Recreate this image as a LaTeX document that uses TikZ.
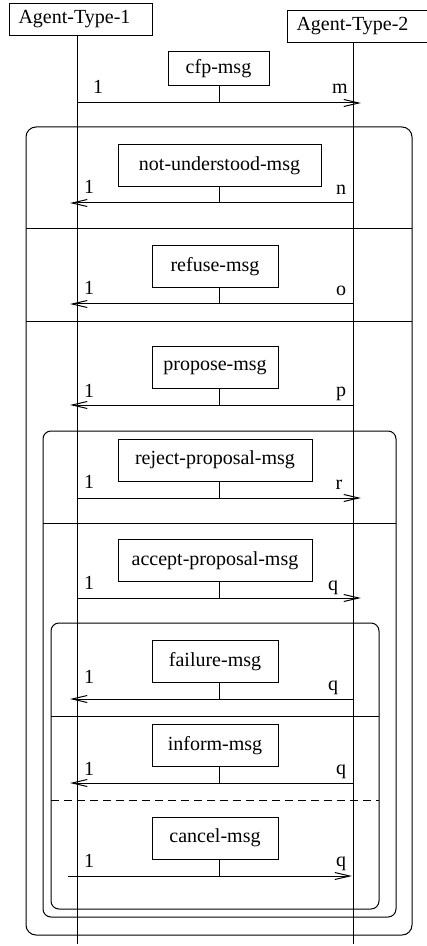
\documentclass[tikz,border=0pt]{standalone}
\usepackage{fontspec}
\setmainfont{Liberation Serif}
\usetikzlibrary{arrows.meta, positioning, calc}

\tikzset{
  agent/.style={draw, anchor=north west, text width=62.5pt, align=left, inner xsep=4.5pt, minimum height=16pt},
  msgbox/.style={draw, minimum height=21pt},
  shortbox/.style={msgbox, minimum width=63pt},
  longbox/.style={msgbox, minimum width=97pt},
  frame/.style={rounded corners=4pt},
  lbl/.style={anchor=base, inner sep=0pt}
}

\begin{document}
\begin{tikzpicture}[x=0.5pt, y=-0.5pt, >={Straight Barb[length=7.5pt,width=3.5pt]}, line width=0.5pt]
    \useasboundingbox (0,0) rectangle (427,946);

    % agents and lifelines
    \node[agent] (agent1) at (9,3) {Agent-Type-1};
    \node[agent] (agent2) at (287,10) {Agent-Type-2};
    \coordinate (end1) at (77,944);
    \coordinate (end2) at (353,944);
    \draw (agent1.south -| end1) -- (end1);
    \draw (agent2.south -| end2) -- (end2);

    % frames
    \draw[frame, rounded corners=5pt] (26,127) rectangle (412,935);
    \draw (26,229) -- (412,229);
    \draw (26,321) -- (412,321);
    \draw[frame] (43,431) rectangle (396,917);
    \draw (43,523) -- (396,523);
    \draw[frame] (51,623) rectangle (379,909);
    \draw (51,716) -- (379,716);
    \draw[dash pattern=on 4pt off 2.5pt] (51,800) -- (379,800);

    % cfp
    \node[msgbox, minimum width=50.5pt, minimum height=17pt] (cfp) at (218.5,69) {cfp-msg};
    \coordinate (cfp-a) at (77,103);
    \coordinate (cfp-b) at (361,103);
    \coordinate (cfp-m) at (219,103);
    \draw[->] (cfp-a) -- (cfp-b);
    \draw (cfp.south -| cfp-m) -- (cfp-m);
    \node[lbl] (cfp-1) at (98,94) {1};
    \node[lbl] (cfp-n) at (340,94) {m};

    % not-understood
    \node[msgbox, minimum width=101.5pt] (notund) at (219.5,165.5) {not-understood-msg};
    \coordinate (notund-a) at (353,203);
    \coordinate (notund-b) at (70,203);
    \coordinate (notund-m) at (219,203);
    \draw[->] (notund-a) -- (notund-b);
    \draw (notund.south -| notund-m) -- (notund-m);
    \node[lbl] (notund-1) at (89,194) {1};
    \node[lbl] (notund-n) at (341,195) {n};

    % refuse
    \node[shortbox] (refuse) at (215,266.5) {refuse-msg};
    \coordinate (refuse-a) at (353,304);
    \coordinate (refuse-b) at (70,304);
    \coordinate (refuse-m) at (219,304);
    \draw[->] (refuse-a) -- (refuse-b);
    \draw (refuse.south -| refuse-m) -- (refuse-m);
    \node[lbl] (refuse-1) at (89,295) {1};
    \node[lbl] (refuse-n) at (341,296) {o};

    % propose
    \node[shortbox] (propose) at (215,367.5) {propose-msg};
    \coordinate (propose-a) at (353,405);
    \coordinate (propose-b) at (70,405);
    \coordinate (propose-m) at (219,405);
    \draw[->] (propose-a) -- (propose-b);
    \draw (propose.south -| propose-m) -- (propose-m);
    \node[lbl] (propose-1) at (89,397) {1};
    \node[lbl] (propose-n) at (341,396) {p};

    % reject-proposal
    \node[longbox] (reject) at (215,460) {reject-proposal-msg};
    \coordinate (reject-a) at (77,498);
    \coordinate (reject-b) at (361,498);
    \coordinate (reject-m) at (219,498);
    \draw[->] (reject-a) -- (reject-b);
    \draw (reject.south -| reject-m) -- (reject-m);
    \node[lbl] (reject-1) at (89,488) {1};
    \node[lbl] (reject-n) at (339,489) {r};

    % accept-proposal
    \node[longbox] (accept) at (215,560.5) {accept-proposal-msg};
    \coordinate (accept-a) at (77,598);
    \coordinate (accept-b) at (361,598);
    \coordinate (accept-m) at (219,598);
    \draw[->] (accept-a) -- (accept-b);
    \draw (accept.south -| accept-m) -- (accept-m);
    \node[lbl] (accept-1) at (89,589) {1};
    \node[lbl] (accept-n) at (333,590) {q};

    % failure
    \node[shortbox] (failure) at (215,661.5) {failure-msg};
    \coordinate (failure-a) at (353,699);
    \coordinate (failure-b) at (70,699);
    \coordinate (failure-m) at (219,699);
    \draw[->] (failure-a) -- (failure-b);
    \draw (failure.south -| failure-m) -- (failure-m);
    \node[lbl] (failure-1) at (89,683) {1};
    \node[lbl] (failure-n) at (333,690) {q};

    % inform
    \node[shortbox] (inform) at (215,745.5) {inform-msg};
    \coordinate (inform-a) at (353,783);
    \coordinate (inform-b) at (70,783);
    \coordinate (inform-m) at (219,783);
    \draw[->] (inform-a) -- (inform-b);
    \draw (inform.south -| inform-m) -- (inform-m);
    \node[lbl] (inform-1) at (89,775) {1};
    \node[lbl] (inform-n) at (341,774) {q};

    % cancel
    \node[shortbox] (cancel) at (215,838) {cancel-msg};
    \coordinate (cancel-a) at (68,876);
    \coordinate (cancel-b) at (352,876);
    \coordinate (cancel-m) at (219,876);
    \draw[->] (cancel-a) -- (cancel-b);
    \draw (cancel.south -| cancel-m) -- (cancel-m);
    \node[lbl] (cancel-1) at (89,867) {1};
    \node[lbl] (cancel-n) at (341,866) {q};
\end{tikzpicture}
\end{document}
